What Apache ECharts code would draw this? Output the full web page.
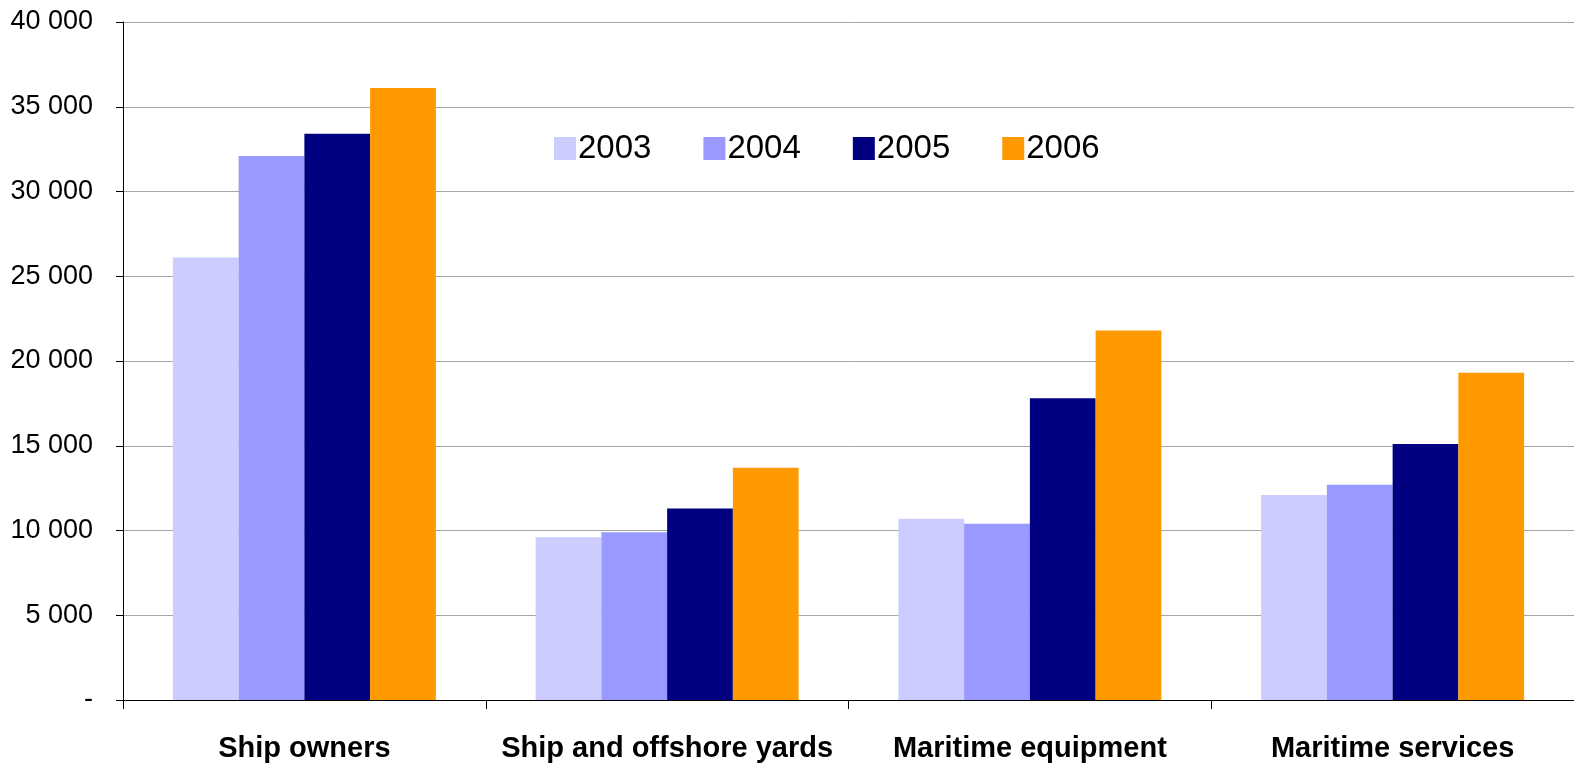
<!DOCTYPE html>
<html>
<head>
<meta charset="utf-8">
<title>Maritime sectors</title>
<script src="https://cdn.jsdelivr.net/npm/echarts@6/dist/echarts.min.js"></script>
<style>
  html, body { margin: 0; padding: 0; background: #ffffff; }
  #chart { width: 1574px; height: 764px; }
</style>
</head>
<body>
<div id="chart"></div>
<script>
// data
var categories = ['Ship owners', 'Ship and offshore yards', 'Maritime equipment', 'Maritime services']
var years = ['2003', '2004', '2005', '2006']
var values2003 = [26100, 9600, 10700, 12100]
var values2004 = [32100, 9900, 10400, 12700]
var values2005 = [33400, 11300, 17800, 15100]
var values2006 = [36100, 13700, 21800, 19300]
var yearColors = ['#CCCCFF', '#9999FF', '#000080', '#FF9900']

var chart = echarts.init(document.getElementById('chart'))
var font = '"Liberation Sans", Arial, sans-serif'

function makeSeries(name, data, color) {
  return {
    name: name,
    type: 'bar',
    data: data,
    barGap: '0%',
    barCategoryGap: '27.5%',
    itemStyle: { color: color },
    animation: false
  }
}

var option = {
  backgroundColor: '#ffffff',
  grid: {
    left: 123,
    right: 0,
    top: 22,
    bottom: 64
  },
  legend: {
    data: years,
    left: 549,
    top: 127,
    itemWidth: 22,
    itemHeight: 23,
    itemGap: 52,
    icon: 'rect',
    textStyle: {
      fontFamily: font,
      fontSize: 33,
      color: '#000000',
      padding: [0, 0, 0, -3]
    }
  },
  xAxis: {
    type: 'category',
    data: categories,
    axisLine: { lineStyle: { color: '#000000', width: 1 } },
    axisTick: { show: true, length: 9, lineStyle: { color: '#000000' } },
    axisLabel: {
      interval: 0,
      margin: 34,
      fontFamily: font,
      fontSize: 29,
      fontWeight: 'bold',
      color: '#000000'
    }
  },
  yAxis: {
    type: 'value',
    min: 0,
    max: 40000,
    interval: 5000,
    axisLine: { show: true, lineStyle: { color: '#000000', width: 1 } },
    axisTick: { show: true, length: 7, lineStyle: { color: '#000000' } },
    splitLine: { lineStyle: { color: '#A6A6A6', width: 1 } },
    axisLabel: {
      margin: 30,
      fontFamily: font,
      fontSize: 27,
      color: '#000000',
      formatter: function (v) {
        if (v === 0) return '-'
        var s = String(v)
        return s.slice(0, s.length - 3) + ' ' + s.slice(-3)
      }
    }
  },
  series: [
    makeSeries(years[0], values2003, yearColors[0]),
    makeSeries(years[1], values2004, yearColors[1]),
    makeSeries(years[2], values2005, yearColors[2]),
    makeSeries(years[3], values2006, yearColors[3])
  ]
}

chart.setOption(option)
</script>
</body>
</html>
